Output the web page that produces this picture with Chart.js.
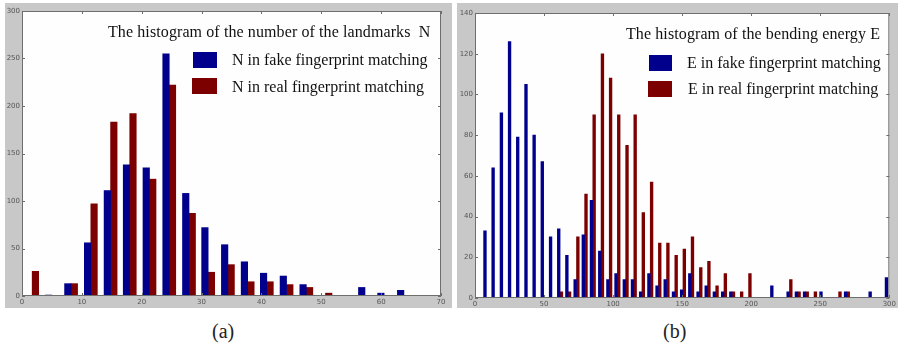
<!DOCTYPE html>
<html>
<head>
<meta charset="utf-8">
<script src="https://cdn.jsdelivr.net/npm/chart.js@4/dist/chart.umd.min.js"></script>
<style>
  body { margin: 0; background: #fff; width: 904px; height: 347px; position: relative; overflow: hidden; }
  .panel { position: absolute; background: #c8c8c8; }
  .panel canvas { position: absolute; left: 0; top: 0; }
  .txt { position: absolute; font-family: "Liberation Serif", "Times New Roman", serif; font-size: 16px; line-height: 16px; color: #111; white-space: nowrap; }
  .ttl { letter-spacing: 0.1px; }
  .sw { position: absolute; }
  .cap { position: absolute; font-family: "Liberation Serif", serif; font-size: 20px; line-height: 20px; color: #222; }
</style>
</head>
<body>
<div class="panel" style="left:5px;top:3px;width:447px;height:305px"><canvas id="chartN" width="447" height="305"></canvas></div>
<div class="panel" style="left:457px;top:3px;width:441px;height:305px"><canvas id="chartE" width="441" height="305"></canvas></div>

<div class="txt ttl" style="left:108px;top:24.2px">The histogram of the number of the landmarks&nbsp; N</div>
<div class="sw" style="left:193px;top:52px;width:24px;height:16px;background:#00008c"></div>
<div class="txt" style="left:232px;top:51.7px">N in fake fingerprint matching</div>
<div class="sw" style="left:192px;top:78px;width:25px;height:16px;background:#7d0000"></div>
<div class="txt" style="left:232px;top:78.7px">N in real fingerprint matching</div>

<div class="txt ttl" style="left:626px;top:25.7px">The histogram of the bending energy E</div>
<div class="sw" style="left:649px;top:55px;width:23px;height:16px;background:#00008c"></div>
<div class="txt" style="left:687px;top:54.7px">E in fake fingerprint matching</div>
<div class="sw" style="left:648px;top:81px;width:24px;height:16px;background:#7d0000"></div>
<div class="txt" style="left:688px;top:80.7px">E in real fingerprint matching</div>

<div class="cap" style="left:212px;top:321px">(a)</div>
<div class="cap" style="left:663px;top:321px">(b)</div>

<script>
// histogramme (a) : nombre de points N
const nBins = [1.7, 5.0, 8.2, 11.5, 14.8, 18.0, 21.3, 24.6, 27.9, 31.1, 34.4, 37.7, 40.9, 44.2, 47.5, 50.7, 54.0, 57.3, 60.5, 63.8];
const nFake = [0, 1, 13, 56, 111, 138, 135, 255, 108, 72, 54, 36, 24, 21, 12, 0, 0, 9, 3, 6];
const nReal = [26, 0, 13, 97, 183, 192, 123, 222, 87, 25, 33, 15, 15, 12, 9, 3, 0, 0, 0, 0];
const nTicksX = [0, 10, 20, 30, 40, 50, 60, 70];
const nTicksY = [0, 50, 100, 150, 200, 250, 300];

// histogramme (b) : énergie de flexion E
const eBins = [8.2, 14.1, 20.1, 26.0, 31.9, 37.9, 43.8, 49.7, 55.7, 61.6,
               67.5, 73.5, 79.4, 85.3, 91.3, 97.2, 103.1, 109.1, 115.0, 120.9,
               126.9, 132.8, 138.7, 144.7, 150.6, 156.5, 162.5, 168.4, 174.3, 180.3,
               186.2, 192.1, 198.1, 204.0, 209.9, 215.9, 221.8, 227.7, 233.7, 239.6,
               245.5, 251.5, 257.4, 263.3, 269.3, 275.2, 281.1, 287.1, 293.0, 298.9];
const eFake = [33, 64, 91, 126, 79, 105, 80, 67, 30, 34,
               21, 9, 31, 48, 23, 9, 12, 9, 9, 3,
               12, 6, 9, 3, 4, 12, 3, 6, 3, 3,
               3, 0, 0, 0, 0, 6, 0, 3, 3, 3,
               0, 3, 0, 0, 3, 0, 0, 3, 0, 10];
const eReal = [0, 0, 0, 0, 0, 0, 0, 0, 0, 3,
               3, 30, 51, 90, 120, 108, 90, 75, 90, 42,
               57, 27, 27, 21, 24, 30, 15, 18, 6, 12,
               3, 3, 12, 0, 0, 0, 0, 9, 3, 3,
               3, 0, 0, 3, 3, 0, 0, 0, 0, 0];
const eTicksX = [0, 50, 100, 150, 200, 250, 300];
const eTicksY = [0, 20, 40, 60, 80, 100, 120, 140];

const BLUE = '#00008c';
const RED = '#7d0000';

// fond blanc + cadre + graduations vers l'intérieur (style matlab)
const boxTicks = {
  id: 'boxTicks',
  beforeDraw(chart) {
    const { ctx, chartArea: a } = chart;
    ctx.save();
    ctx.fillStyle = '#fefefe';
    ctx.fillRect(a.left, a.top, a.right - a.left, a.bottom - a.top);
    ctx.restore();
  },
  afterDraw(chart) {
    const { ctx, chartArea: a, scales: { x, y } } = chart;
    ctx.save();
    ctx.strokeStyle = '#6e6e6e';
    ctx.lineWidth = 1;
    ctx.strokeRect(a.left + 0.5, a.top + 0.5, a.right - a.left - 1, a.bottom - a.top - 1);
    ctx.beginPath();
    x.ticks.forEach(t => {
      const px = Math.round(x.getPixelForValue(t.value)) + 0.5;
      ctx.moveTo(px, a.bottom); ctx.lineTo(px, a.bottom - 3);
      ctx.moveTo(px, a.top); ctx.lineTo(px, a.top + 3);
    });
    y.ticks.forEach(t => {
      const py = Math.round(y.getPixelForValue(t.value)) + 0.5;
      ctx.moveTo(a.left, py); ctx.lineTo(a.left + 3, py);
      ctx.moveTo(a.right, py); ctx.lineTo(a.right - 3, py);
    });
    ctx.stroke();
    ctx.restore();
  }
};

function histo(canvasId, bins, fake, real, ticksX, ticksY, barW, pad, yW, xH) {
  const toPts = vals => bins.map((b, i) => ({ x: b, y: vals[i] }));
  new Chart(document.getElementById(canvasId), {
    type: 'bar',
    data: {
      datasets: [
        { label: 'fake', data: toPts(fake), backgroundColor: BLUE, barThickness: barW },
        { label: 'real', data: toPts(real), backgroundColor: RED, barThickness: barW }
      ]
    },
    options: {
      responsive: false,
      animation: false,
      layout: { padding: pad },
      plugins: { legend: { display: false }, title: { display: false }, tooltip: { enabled: false } },
      scales: {
        x: {
          type: 'linear', offset: false,
          min: ticksX[0], max: ticksX[ticksX.length - 1],
          afterBuildTicks: s => { s.ticks = ticksX.map(v => ({ value: v })); },
          afterFit: s => { s.height = xH; },
          grid: { display: false, drawTicks: false, tickLength: 0 }, border: { display: false },
          ticks: { padding: 2, color: '#555', font: { family: 'DejaVu Sans', size: 7 }, maxRotation: 0 }
        },
        y: {
          min: ticksY[0], max: ticksY[ticksY.length - 1],
          afterBuildTicks: s => { s.ticks = ticksY.map(v => ({ value: v })); },
          afterFit: s => { s.width = yW; },
          grid: { display: false, drawTicks: false, tickLength: 0 }, border: { display: false },
          ticks: { padding: 2, color: '#555', font: { family: 'DejaVu Sans', size: 7 } }
        }
      }
    },
    plugins: [boxTicks]
  });
}

histo('chartN', nBins, nFake, nReal, nTicksX, nTicksY, 6.5,
      { left: 0, top: 8, right: 11, bottom: 0 }, 17, 12);
histo('chartE', eBins, eFake, eReal, eTicksX, eTicksY, 2.7,
      { left: 0, top: 10, right: 6, bottom: 0 }, 18, 10);
</script>
</body>
</html>
